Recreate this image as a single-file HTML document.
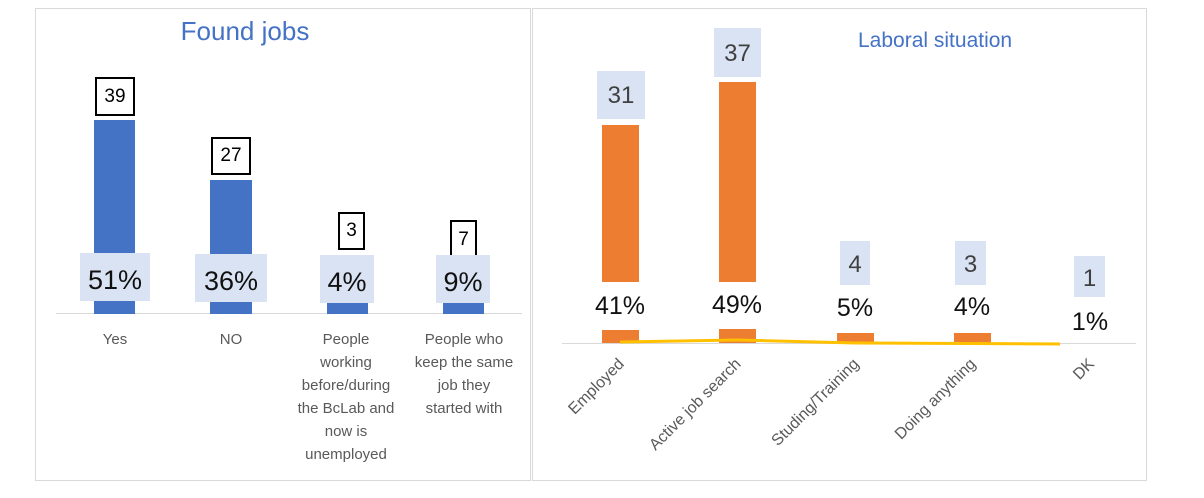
<!DOCTYPE html>
<html><head><style>
body{margin:0;width:1204px;height:498px;background:#fff;position:relative;font-family:"Liberation Sans","DejaVu Sans",sans-serif;overflow:hidden}
.a{position:absolute}
.panel{position:absolute;border:1px solid #d9d9d9;box-sizing:border-box}
.bb{position:absolute;background:#4472c4}
.ob{position:absolute;background:#ed7d31}
.nb{position:absolute;border:2px solid #000;background:#fff;box-sizing:border-box;font-size:19px;text-align:center;color:#000}
.pb{position:absolute;background:#dae3f3;font-size:27px;text-align:center;color:#111}
.cb{position:absolute;background:#dae3f3;font-size:24px;text-align:center;color:#404040}
.cat{position:absolute;width:130px;text-align:center;font-size:15px;line-height:23px;color:#595959;white-space:nowrap}
.pl{position:absolute;width:80px;text-align:center;font-size:25px;color:#111}
.rl{position:absolute;font-size:16px;color:#595959;white-space:nowrap;transform-origin:right center;transform:rotate(-45deg);text-align:right}
</style></head><body>
<div class="panel" style="left:35px;top:8px;width:496px;height:473px"></div>
<div class="panel" style="left:532px;top:8px;width:615px;height:473px"></div>

<div class="a" style="left:130px;top:16px;width:230px;text-align:center;font-size:26px;color:#4472c4">Found jobs</div>
<div class="a" style="left:56px;top:313px;width:466px;height:1px;background:#d9d9d9"></div>
<div class="bb" style="left:94px;top:120px;width:41px;height:194px"></div>
<div class="bb" style="left:210px;top:180px;width:42px;height:134px"></div>
<div class="bb" style="left:327px;top:303px;width:41px;height:11px"></div>
<div class="bb" style="left:443px;top:303px;width:41px;height:11px"></div>
<div class="nb" style="left:95px;top:77px;width:40px;height:39px;line-height:35px">39</div>
<div class="nb" style="left:211px;top:137px;width:40px;height:38px;line-height:34px">27</div>
<div class="nb" style="left:338px;top:212px;width:27px;height:38px;line-height:34px">3</div>
<div class="nb" style="left:450px;top:220px;width:27px;height:40px;line-height:36px">7</div>
<div class="pb" style="left:80px;top:253px;width:70px;height:48px;line-height:54px">51%</div>
<div class="pb" style="left:195px;top:254px;width:72px;height:48px;line-height:54px">36%</div>
<div class="pb" style="left:320px;top:255px;width:54px;height:48px;line-height:54px">4%</div>
<div class="pb" style="left:436px;top:255px;width:54px;height:48px;line-height:54px">9%</div>
<div class="cat" style="left:50px;top:328px">Yes</div>
<div class="cat" style="left:166px;top:328px">NO</div>
<div class="cat" style="left:281px;top:328px">People<br>working<br>before/during<br>the BcLab and<br>now is<br>unemployed</div>
<div class="cat" style="left:399px;top:328px">People who<br>keep the same<br>job they<br>started with</div>

<div class="a" style="left:858px;top:29px;font-size:21px;color:#4472c4">Laboral situation</div>
<div class="a" style="left:562px;top:343px;width:574px;height:1px;background:#d9d9d9"></div>
<div class="ob" style="left:602px;top:125px;width:37px;height:157px"></div>
<div class="ob" style="left:602px;top:330px;width:37px;height:13px"></div>
<div class="ob" style="left:719px;top:82px;width:37px;height:200px"></div>
<div class="ob" style="left:719px;top:329px;width:37px;height:14px"></div>
<div class="ob" style="left:837px;top:333px;width:37px;height:10px"></div>
<div class="ob" style="left:954px;top:333px;width:37px;height:10px"></div>
<svg class="a" style="left:0;top:0" width="1204" height="498"><polyline points="620,342 737,340 855,343 1060,344" fill="none" stroke="#ffc000" stroke-width="3"/></svg>
<div class="cb" style="left:597px;top:71px;width:48px;height:48px;line-height:50px">31</div>
<div class="cb" style="left:714px;top:28px;width:47px;height:49px;line-height:51px">37</div>
<div class="cb" style="left:840px;top:241px;width:30px;height:44px;line-height:48px">4</div>
<div class="cb" style="left:955px;top:241px;width:31px;height:44px;line-height:48px">3</div>
<div class="cb" style="left:1074px;top:256px;width:31px;height:41px;line-height:45px">1</div>
<div class="pl" style="left:580px;top:292px">41%</div>
<div class="pl" style="left:697px;top:291px">49%</div>
<div class="pl" style="left:815px;top:294px">5%</div>
<div class="pl" style="left:932px;top:293px">4%</div>
<div class="pl" style="left:1050px;top:308px">1%</div>
<div class="rl" style="right:582px;top:353px">Employed</div>
<div class="rl" style="right:465px;top:353px">Active job search</div>
<div class="rl" style="right:347px;top:353px">Studing/Training</div>
<div class="rl" style="right:230px;top:353px">Doing anything</div>
<div class="rl" style="right:112px;top:353px">DK</div>
</body></html>
